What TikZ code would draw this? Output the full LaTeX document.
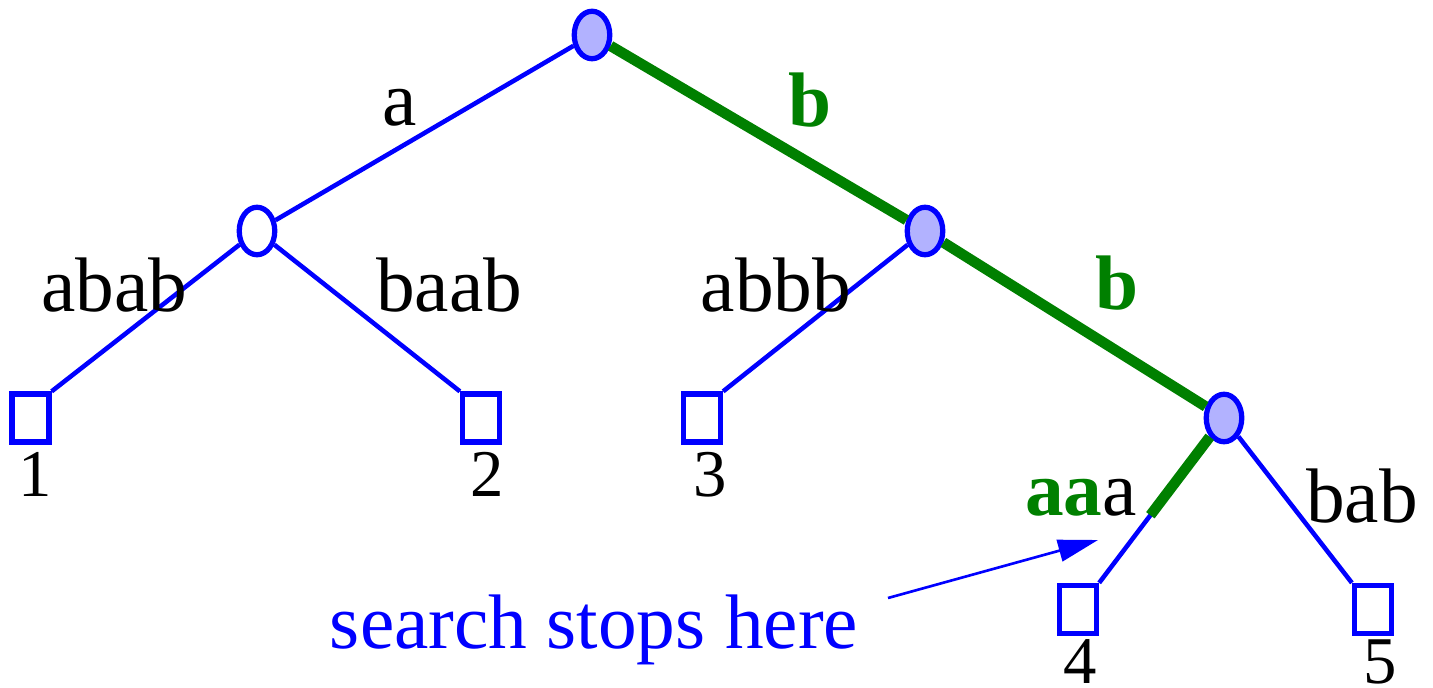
\documentclass[tikz,border=0pt]{standalone}
\usepackage{fontspec}
\setmainfont{Liberation Serif}
\usepackage{xcolor}
\usetikzlibrary{arrows.meta}
\usetikzlibrary{calc}
\usetikzlibrary{shapes.geometric}
\definecolor{trieblue}{RGB}{0,0,255}
\definecolor{triegreen}{RGB}{0,128,0}
\definecolor{triefill}{RGB}{178,178,255}

\begin{document}
\begin{tikzpicture}[
    inner/.style={ellipse, draw=trieblue, line width=1.5pt, minimum width=0.355cm,
      minimum height=0.475cm, inner sep=0pt},
    leaf/.style={rectangle, draw=trieblue, line width=1.5pt, minimum width=0.37cm,
      minimum height=0.48cm, inner sep=0pt},
    edge/.style={draw=trieblue, line width=1.3pt},
    hit/.style={draw=triegreen, line width=3pt},
    lab/.style={anchor=base, inner sep=0pt, font=\fontsize{22}{26}\selectfont},
    num/.style={anchor=base, inner sep=0pt, font=\fontsize{19}{23}\selectfont}]
\useasboundingbox (0,0) rectangle (14.33,6.87);
% internal nodes
\node[inner, fill=triefill] (root) at (5.92,6.52) {};
\node[inner, fill=white] (an) at (2.57,4.56) {};
\node[inner, fill=triefill] (bn) at (9.25,4.56) {};
\node[inner, fill=triefill] (bbn) at (12.24,2.69) {};
% leaves
\node[leaf] (l1) at (0.305,2.69) {};
\node[leaf] (l2) at (4.81,2.69) {};
\node[leaf] (l3) at (7.02,2.69) {};
\node[leaf] (l4) at (10.78,0.775) {};
\node[leaf] (l5) at (13.73,0.775) {};
%
\draw[edge] (root) -- (an);
\draw[edge] (an) -- (l1.north east);
\draw[edge] (an) -- (l2.north west);
\draw[edge] (bn) -- (l3.north east);
\draw[edge] (bbn) -- (l4.north east);
\draw[edge] (bbn) -- (l5.north west);
\draw[hit] (root) -- (bn);
\draw[hit] (bn) -- (bbn);
\coordinate (stop) at ($(bbn)!0.59!(l4.north east)$);
\draw[hit] (bbn) -- (stop);
% edge labels
\node[lab] (la) at (4.00,5.61) {a};
\node[lab, text=triegreen] (lb) at (8.10,5.60) {\bfseries b};
\node[lab] (labab) at (1.14,3.75) {abab};
\node[lab] (lbaab) at (4.49,3.75) {baab};
\node[lab] (labbb) at (7.76,3.75) {abbb};
\node[lab, text=triegreen] (lbb) at (11.17,3.77) {\bfseries b};
\node[lab] (laaa) at (10.81,1.72) {\textcolor{triegreen}{\bfseries aa}a};
\node[lab] (lbab) at (13.62,1.65) {bab};
% leaf numbers
\node[num] (n1) at (0.35,1.91) {1};
\node[num] (n2) at (4.87,1.91) {2};
\node[num] (n3) at (7.10,1.91) {3};
\node[num] (n4) at (10.80,0.04) {4};
\node[num] (n5) at (13.80,0.04) {5};
% note
\node[lab, text=trieblue] (msg) at (5.94,0.39) {search stops here};
\coordinate (tail) at (8.88,0.89);
\coordinate (tip) at (10.98,1.47);
\draw[trieblue, line width=0.75pt, -{Triangle[length=0.4cm, width=0.22cm]}] (tail) -- (tip);
\end{tikzpicture}
\end{document}
